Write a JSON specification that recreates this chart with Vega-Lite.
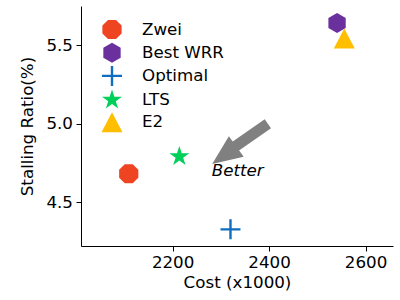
{
  "$schema": "https://vega.github.io/schema/vega-lite/v6.json",
  "width": 312,
  "height": 240,
  "autosize": {"type": "none"},
  "padding": {"left": 81, "top": 6, "right": 7, "bottom": 54},
  "background": "white",
  "config": {
    "view": {"stroke": null},
    "font": "DejaVu Sans",
    "axis": {
      "grid": false,
      "domainColor": "black",
      "domainWidth": 1,
      "tickColor": "black",
      "tickSize": 5,
      "tickWidth": 1,
      "labelFont": "DejaVu Sans",
      "labelFontSize": 16.7,
      "labelColor": "black",
      "labelPadding": 3.5,
      "titleFont": "DejaVu Sans",
      "titleFontSize": 16.7,
      "titleFontWeight": "normal",
      "titleColor": "black"
    },
    "legend": {
      "orient": "none",
      "legendX": 21,
      "legendY": 13.5,
      "padding": 0,
      "labelFont": "DejaVu Sans",
      "labelFontSize": 16.7,
      "labelColor": "black",
      "symbolSize": 400,
      "labelOffset": 20,
      "rowPadding": 3.2,
      "symbolStrokeWidth": 0,
      "symbolOpacity": 1
    }
  },
  "datasets": {
    "methods": [
      {"method": "Zwei", "cost": 2109, "ratio": 4.682},
      {"method": "Best WRR", "cost": 2541, "ratio": 5.642},
      {"method": "Optimal", "cost": 2320, "ratio": 4.328},
      {"method": "LTS", "cost": 2214, "ratio": 4.792},
      {"method": "E2", "cost": 2556, "ratio": 5.543}
    ],
    "arrow": [
      {"cost": 2397.5, "ratio": 5.0, "cost2": 2323, "ratio2": 4.841, "tipcost": 2282, "tipratio": 4.744}
    ],
    "note": [
      {"cost": 2281, "ratio": 4.665, "label": "Better"}
    ]
  },
  "encoding": {
    "x": {
      "field": "cost", "type": "quantitative",
      "scale": {"domain": [2010, 2657], "nice": false, "zero": false},
      "axis": {"values": [2200, 2400, 2600], "format": "d", "title": "Cost (x1000)", "titlePadding": 3}
    },
    "y": {
      "field": "ratio", "type": "quantitative",
      "scale": {"domain": [4.222, 5.75], "nice": false, "zero": false},
      "axis": {"values": [4.5, 5.0, 5.5], "format": ".1f", "title": "Stalling Ratio(%)", "titlePadding": 9}
    }
  },
  "layer": [
    {
      "data": {"name": "arrow"},
      "mark": {"type": "rule", "color": "#808080", "strokeWidth": 11, "strokeCap": "butt"},
      "encoding": {
        "x2": {"field": "cost2"},
        "y2": {"field": "ratio2"}
      }
    },
    {
      "data": {"name": "arrow"},
      "mark": {"type": "point", "filled": true, "color": "#808080", "opacity": 1, "size": 400, "angle": 234, "shape": "M0,0L1.26,2.98L-1.26,2.98Z", "strokeWidth": 0},
      "encoding": {
        "x": {"field": "tipcost", "type": "quantitative"},
        "y": {"field": "tipratio", "type": "quantitative"}
      }
    },
    {
      "data": {"name": "note"},
      "mark": {"type": "text", "align": "left", "baseline": "alphabetic", "fontStyle": "italic", "fontSize": 16.7, "font": "DejaVu Sans", "color": "black"},
      "encoding": {
        "text": {"field": "label"}
      }
    },
    {
      "data": {"name": "methods"},
      "mark": {"type": "point", "filled": true, "opacity": 1, "size": 400, "strokeWidth": 0},
      "encoding": {
        "color": {
          "field": "method", "type": "nominal",
          "scale": {
            "domain": ["Zwei", "Best WRR", "Optimal", "LTS", "E2"],
            "range": ["#EE4422", "#6A309E", "#0F6EC0", "#00D05A", "#FFBF00"]
          },
          "legend": {"title": null, "orient": "none", "legendX": 21, "legendY": 13.5}
        },
        "shape": {
          "field": "method", "type": "nominal",
          "scale": {
            "domain": ["Zwei", "Best WRR", "Optimal", "LTS", "E2"],
            "range": [
              "M0.961,0.398L0.398,0.961L-0.398,0.961L-0.961,0.398L-0.961,-0.398L-0.398,-0.961L0.398,-0.961L0.961,-0.398Z",
              "M0,-1L0.866,-0.5L0.866,0.5L0,1L-0.866,0.5L-0.866,-0.5Z",
              "M-1,-0.12L-0.12,-0.12L-0.12,-1L0.12,-1L0.12,-0.12L1,-0.12L1,0.12L0.12,0.12L0.12,1L-0.12,1L-0.12,0.12L-1,0.12Z",
              "M0,-1.05L0.235,-0.324L0.999,-0.324L0.38,0.124L0.617,0.849L0,0.4L-0.617,0.849L-0.38,0.124L-0.999,-0.324L-0.235,-0.324Z",
              "M0,-1L1.05,1L-1.05,1Z"
            ]
          },
          "legend": {"title": null, "orient": "none", "legendX": 21, "legendY": 13.5}
        }
      }
    }
  ]
}
